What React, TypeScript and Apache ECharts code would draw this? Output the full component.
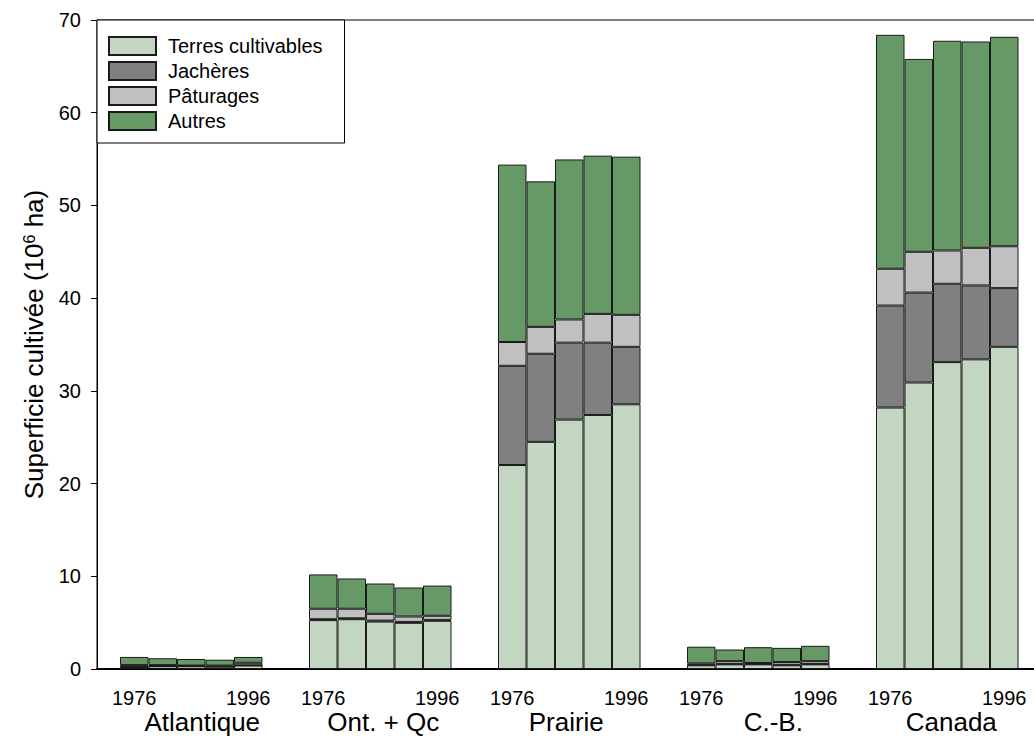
import React, { useEffect, useRef } from "react";
import * as echarts from "echarts";

const regions = ["Atlantique", "Ont. + Qc", "Prairie", "C.-B.", "Canada"];
const years = ["1976", "1981", "1986", "1991", "1996"];
const seriesNames = ["Terres cultivables", "Jachères", "Pâturages", "Autres"];

// values (10^6 ha) per region, per census year
const terresCultivables = [
  [0.2, 0.3, 0.3, 0.25, 0.38],
  [5.27, 5.37, 5.12, 4.98, 5.2],
  [22.0, 24.5, 26.9, 27.4, 28.55],
  [0.4, 0.5, 0.5, 0.4, 0.5],
  [28.2, 30.9, 33.1, 33.4, 34.75],
];
const jacheres = [
  [0.02, 0.02, 0.02, 0.02, 0.02],
  [0.1, 0.1, 0.1, 0.1, 0.1],
  [10.7, 9.5, 8.3, 7.8, 6.2],
  [0.05, 0.05, 0.05, 0.05, 0.05],
  [11.0, 9.7, 8.45, 7.97, 6.33],
];
const paturages = [
  [0.2, 0.1, 0.05, 0.1, 0.27],
  [1.13, 1.03, 0.73, 0.58, 0.44],
  [2.57, 2.9, 2.5, 3.1, 3.45],
  [0.15, 0.3, 0.1, 0.3, 0.3],
  [3.97, 4.4, 3.59, 4.06, 4.52],
];
const autres = [
  [0.88, 0.74, 0.71, 0.63, 0.63],
  [3.7, 3.26, 3.27, 3.13, 3.26],
  [19.13, 15.7, 17.26, 17.07, 17.06],
  [1.8, 1.25, 1.7, 1.53, 1.65],
  [25.23, 20.8, 22.62, 22.25, 22.59],
];
const layers = [terresCultivables, jacheres, paturages, autres];
const yTicks = { min: 0, max: 70, interval: 10 };

// styles / layout
const colors = ["#c2d6c2", "#808080", "#c0c0c0", "#669966"];
const FONT = "'Liberation Sans', Arial, Helvetica, sans-serif";
const groupLeft0 = 120;
const groupStep = 189;
const groupWidth = 142.5;
const regionLabelShift = [11, 3, -3, 15, 4];

export default function App() {
  const ref = useRef<HTMLDivElement>(null);
  useEffect(() => {
    if (!ref.current) return;
    const chart = echarts.init(ref.current, undefined, { renderer: "svg" });

    const grids: any[] = [
      {
        left: 97,
        top: 20,
        right: -10,
        bottom: 69,
        outerBoundsMode: "none",
        containLabel: false,
        show: true,
        borderColor: "#000",
        borderWidth: 1,
        backgroundColor: "transparent",
      },
    ];
    const xAxes: any[] = [
      {
        gridIndex: 0,
        type: "value",
        min: 0,
        max: 1,
        axisLine: { show: true, lineStyle: { color: "#000", width: 2 } },
        axisTick: { show: false },
        axisLabel: { show: false },
        splitLine: { show: false },
      },
    ];
    const yAxes: any[] = [
      {
        gridIndex: 0,
        type: "value",
        min: yTicks.min,
        max: yTicks.max,
        interval: yTicks.interval,
        axisLine: { show: true, lineStyle: { color: "#000", width: 1 } },
        axisTick: { show: true, length: 6, lineStyle: { color: "#000" } },
        axisLabel: { color: "#000", fontSize: 20, margin: 16, fontFamily: FONT },
        splitLine: { show: false },
        name: "{a|Superficie cultivée (10}{s|6}{a| ha)}",
        nameLocation: "middle",
        nameGap: 50,
        nameMoveOverlap: false,
        nameTextStyle: {
          rich: {
            a: { fontSize: 26, color: "#000", fontFamily: FONT },
            s: { fontSize: 16, color: "#000", fontFamily: FONT, verticalAlign: "top" },
          },
        },
      },
    ];
    const series: any[] = [];

    regions.forEach((region, i) => {
      grids.push({
        left: groupLeft0 + groupStep * i,
        top: 20,
        width: groupWidth,
        bottom: 69,
        outerBoundsMode: "none",
        containLabel: false,
      });
      const dx = regionLabelShift[i];
      xAxes.push({
        gridIndex: i + 1,
        type: "category",
        data: years,
        axisLine: { show: false },
        axisTick: { show: false },
        axisLabel: {
          interval: 0,
          formatter: (v: string, idx: number) =>
            idx === 0 || idx === years.length - 1 ? v : "",
          color: "#000",
          fontSize: 20,
          lineHeight: 16,
          margin: 21,
          fontFamily: FONT,
        },
        name: region,
        nameLocation: "middle",
        nameGap: 42,
        nameMoveOverlap: false,
        nameTextStyle: {
          fontSize: 26,
          lineHeight: 22,
          color: "#000",
          fontFamily: FONT,
          padding: dx >= 0 ? [0, 0, 0, 2 * dx] : [0, -2 * dx, 0, 0],
        },
      });
      yAxes.push({
        gridIndex: i + 1,
        type: "value",
        min: yTicks.min,
        max: yTicks.max,
        show: false,
      });
      layers.forEach((layer, k) => {
        series.push({
          type: "bar",
          name: seriesNames[k],
          xAxisIndex: i + 1,
          yAxisIndex: i + 1,
          stack: "g" + i,
          barCategoryGap: "0%",
          data: layer[i],
          itemStyle: { color: colors[k], borderColor: "#1a1a1a", borderWidth: 1 },
        });
      });
    });

    chart.setOption({
      animation: false,
      textStyle: { fontFamily: FONT },
      grid: grids,
      xAxis: xAxes,
      yAxis: yAxes,
      legend: {
        orient: "vertical",
        left: 97,
        top: 20,
        data: seriesNames,
        icon: "rect",
        itemWidth: 47,
        itemHeight: 18,
        itemGap: 5,
        selectedMode: false,
        padding: [16, 22, 12, 11],
        borderColor: "#000",
        borderWidth: 1,
        backgroundColor: "#fff",
        textStyle: {
          fontSize: 20,
          color: "#000",
          lineHeight: 18,
          fontFamily: FONT,
          padding: [0, 0, 0, 7],
        },
      },
      series,
    });
    return () => chart.dispose();
  }, []);

  return (
    <div
      ref={ref}
      style={{ position: "absolute", left: 0, top: 0, width: 1034, height: 738, background: "#fff" }}
    />
  );
}
